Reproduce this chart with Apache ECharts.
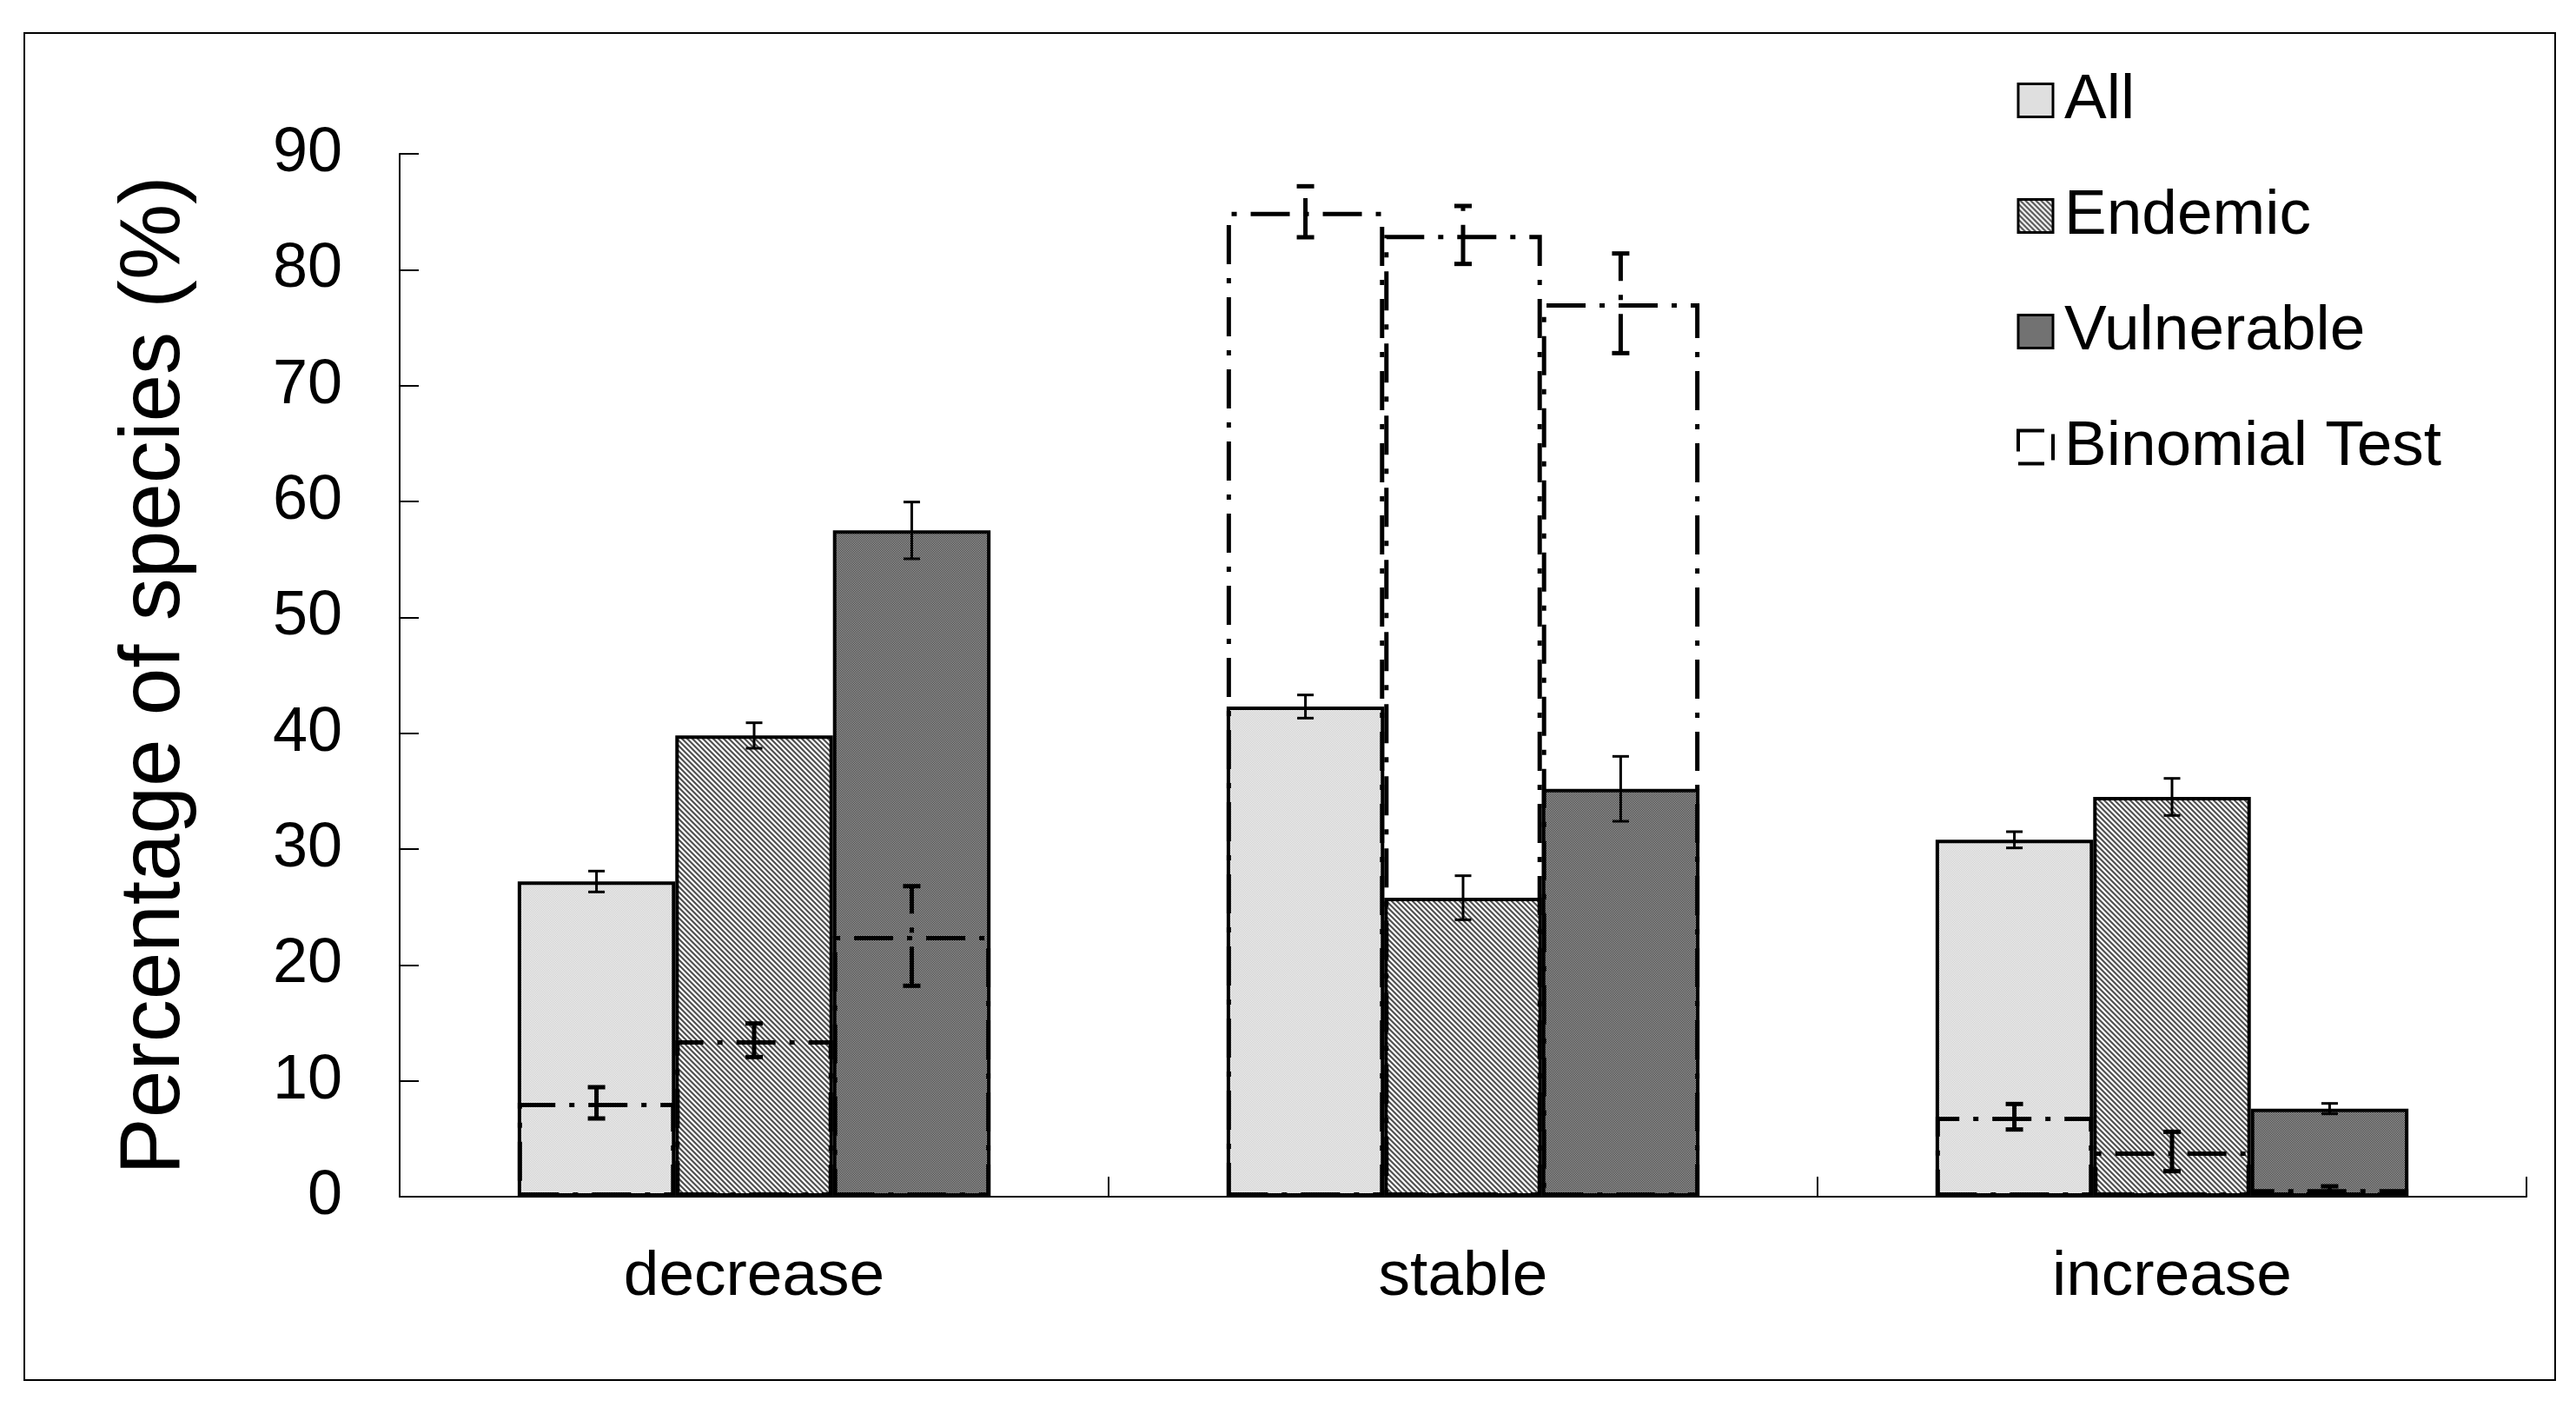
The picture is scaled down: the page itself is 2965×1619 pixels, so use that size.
<!DOCTYPE html>
<html><head><meta charset="utf-8">
<script src="https://cdn.jsdelivr.net/npm/echarts@6/dist/echarts.min.js"></script>
<style>html,body{margin:0;padding:0;background:#fff}#c{width:2965px;height:1619px}</style>
</head><body><div id="c"></div>
<script>
// ---- data ----
const categories = ['decrease', 'stable', 'increase'];
const allValues = [27.2, 42.3, 30.8];
const allErrors = [0.9, 1.0, 0.7];
const endemicValues = [39.8, 25.8, 34.5];
const endemicErrors = [1.1, 1.9, 1.6];
const vulnerableValues = [57.5, 35.2, 7.6];
const vulnerableErrors = [2.45, 2.8, 0.45];
const binomialAll = [8.1, 85.0, 6.9];
const binomialAllErrors = [1.35, 2.2, 1.1];
const binomialEndemic = [13.5, 83.0, 3.9];
const binomialEndemicErrors = [1.45, 2.5, 1.7];
const binomialVulnerable = [22.5, 77.1, 0.65];
const binomialVulnerableErrors = [4.3, 4.3, 0.25];
const yMin = 0, yMax = 90, yInterval = 10;

const FONT = '"Liberation Sans", Arial, sans-serif';
const CAT_GAP = 0.333;
const DASH = [45, 16, 6, 16];

function makePattern(size, fn) {
  const c = document.createElement('canvas');
  c.width = size; c.height = size;
  const ctx = c.getContext('2d');
  const img = ctx.createImageData(size, size);
  for (let y = 0; y < size; y++) for (let x = 0; x < size; x++) {
    const v = fn(x, y), p = (y * size + x) * 4;
    img.data[p] = v; img.data[p + 1] = v; img.data[p + 2] = v; img.data[p + 3] = 255;
  }
  ctx.putImageData(img, 0, 0);
  return { image: c, repeat: 'repeat' };
}
const allPattern = makePattern(2, (x, y) => ((x + y) % 2 ? 0xfa : 0xc4));
const endemicPattern = makePattern(6, (x, y) => (((x - y + 6) % 6) < 3 ? 0x5a : 0xf2));
const vulnerablePattern = makePattern(2, (x, y) => ((x + y) % 2 ? 0xc4 : 0x20));

function mainBar(name, data, pattern) {
  return {
    type: 'bar', name, data, xAxisIndex: 0, yAxisIndex: 0,
    barGap: '0%', barCategoryGap: (CAT_GAP * 100) + '%',
    itemStyle: { color: pattern, borderColor: '#000', borderWidth: 4 },
    emphasis: { disabled: true }, z: 2
  };
}
function binomBar(data) {
  return {
    type: 'bar', name: 'Binomial Test', data, xAxisIndex: 1, yAxisIndex: 0,
    barGap: '0%', barCategoryGap: (CAT_GAP * 100) + '%',
    itemStyle: { color: 'rgba(0,0,0,0)', borderColor: '#000', borderWidth: 5, borderType: DASH },
    emphasis: { disabled: true }, z: 4
  };
}
function errorSeries(values, errors, k, binom) {
  return {
    type: 'custom', xAxisIndex: binom ? 1 : 0, yAxisIndex: 0, z: binom ? 5 : 3, silent: true,
    data: values.map((v, i) => [i, v, errors[i]]),
    encode: { x: 0, y: 1 },
    renderItem: function (params, api) {
      const i = api.value(0), v = api.value(1), e = api.value(2);
      const c = api.coord([i, v]);
      const band = api.size([1, 0])[0];
      const bw = band * (1 - CAT_GAP) / 3;
      const x = c[0] + (k - 1) * bw;
      const yTop = api.coord([i, v + e])[1];
      const yBot = api.coord([i, Math.max(v - e, 0)])[1];
      const cap = binom ? 10 : 9.5;
      const lw = binom ? 5 : 3;
      return {
        type: 'group', children: [
          { type: 'line', shape: { x1: x, y1: yBot, x2: x, y2: yTop }, style: { stroke: '#000', lineWidth: lw, lineDash: binom ? DASH : null } },
          { type: 'line', shape: { x1: x - cap, y1: yTop, x2: x + cap, y2: yTop }, style: { stroke: '#000', lineWidth: lw } },
          { type: 'line', shape: { x1: x - cap, y1: yBot, x2: x + cap, y2: yBot }, style: { stroke: '#000', lineWidth: lw } }
        ]
      };
    }
  };
}

const chart = echarts.init(document.getElementById('c'), null, { renderer: 'canvas' });
chart.setOption({
  animation: false,
  backgroundColor: '#fff',
  textStyle: { fontFamily: FONT },
  graphic: [{
    type: 'rect', silent: true, z: -10,
    shape: { x: 28, y: 38, width: 2913, height: 1550 },
    style: { fill: 'none', stroke: '#000', lineWidth: 2 }
  }],
  legend: {
    orient: 'vertical', left: 2321, top: 79, padding: 0,
    itemWidth: 40, itemHeight: 38, itemGap: 60, icon: 'rect', selectedMode: false,
    textStyle: { fontSize: 73, color: '#000', fontFamily: FONT, padding: [0, 0, 0, 8] },
    itemStyle: { borderColor: '#000', borderWidth: 3 },
    data: [
      { name: 'All' }, { name: 'Endemic' }, { name: 'Vulnerable' },
      { name: 'Binomial Test', itemStyle: { color: '#fff', borderColor: '#000', borderWidth: 4, borderType: [30, 14] } }
    ]
  },
  grid: { left: 460, right: 57, top: 177, bottom: 242, containLabel: false },
  xAxis: [{
    type: 'category', data: categories,
    axisLine: { show: true, lineStyle: { color: '#000', width: 2 } },
    axisTick: { show: true, inside: true, length: 23, lineStyle: { color: '#000', width: 2 } },
    axisLabel: { fontSize: 73, color: '#000', margin: 56, fontFamily: FONT },
    splitLine: { show: false }
  }, {
    type: 'category', data: categories, show: false
  }],
  yAxis: {
    type: 'value', min: yMin, max: yMax, interval: yInterval,
    name: 'Percentage of species (%)', nameLocation: 'middle', nameGap: 232,
    nameTextStyle: { fontSize: 98, color: '#000', fontFamily: FONT },
    axisLine: { show: true, lineStyle: { color: '#000', width: 2 } },
    axisTick: { show: true, inside: true, length: 22, lineStyle: { color: '#000', width: 2 } },
    axisLabel: { fontSize: 72, color: '#000', margin: 66, fontFamily: FONT },
    splitLine: { show: false }
  },
  series: [
    mainBar('All', allValues, allPattern),
    mainBar('Endemic', endemicValues, endemicPattern),
    mainBar('Vulnerable', vulnerableValues, vulnerablePattern),
    binomBar(binomialAll),
    binomBar(binomialEndemic),
    binomBar(binomialVulnerable),
    errorSeries(allValues, allErrors, 0, false),
    errorSeries(endemicValues, endemicErrors, 1, false),
    errorSeries(vulnerableValues, vulnerableErrors, 2, false),
    errorSeries(binomialAll, binomialAllErrors, 0, true),
    errorSeries(binomialEndemic, binomialEndemicErrors, 1, true),
    errorSeries(binomialVulnerable, binomialVulnerableErrors, 2, true)
  ]
});
</script>
</body></html>
